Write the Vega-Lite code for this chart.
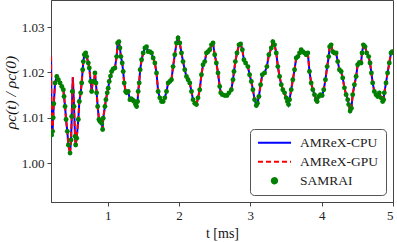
{
  "$schema": "https://vega.github.io/schema/vega-lite/v6.json",
  "width": 342,
  "height": 202,
  "autosize": {"type": "none"},
  "padding": {"left": 51, "top": 0, "right": 4, "bottom": 40},
  "background": "white",
  "config": {
    "view": {"stroke": "#444", "strokeWidth": 1},
    "font": "Liberation Serif",
    "axis": {
      "grid": false,
      "domainColor": "#444",
      "tickColor": "#444",
      "tickSize": 4,
      "labelFont": "Liberation Serif",
      "labelFontSize": 13,
      "labelColor": "#222",
      "titleFont": "Liberation Serif",
      "titleFontSize": 14,
      "titleFontWeight": "normal",
      "titleColor": "#111"
    }
  },
  "data": {"values": [
    {"t":0.207,"amrex":1.0235,"samrai":null},
    {"t":0.215,"amrex":1.0062,"samrai":1.0062},
    {"t":0.228,"amrex":1.0070,"samrai":1.0070},
    {"t":0.237,"amrex":1.0100,"samrai":1.0100},
    {"t":0.245,"amrex":1.0131,"samrai":1.0131},
    {"t":0.263,"amrex":1.0177,"samrai":1.0177},
    {"t":0.287,"amrex":1.0191,"samrai":1.0191},
    {"t":0.309,"amrex":1.0184,"samrai":1.0184},
    {"t":0.333,"amrex":1.0177,"samrai":1.0177},
    {"t":0.357,"amrex":1.0169,"samrai":1.0169},
    {"t":0.379,"amrex":1.0162,"samrai":1.0162},
    {"t":0.389,"amrex":1.0147,"samrai":1.0147},
    {"t":0.403,"amrex":1.0125,"samrai":1.0125},
    {"t":0.417,"amrex":1.0096,"samrai":1.0096},
    {"t":0.435,"amrex":1.0070,"samrai":1.0070},
    {"t":0.449,"amrex":1.0040,"samrai":1.0040},
    {"t":0.473,"amrex":1.0022,"samrai":1.0022},
    {"t":0.487,"amrex":1.0051,"samrai":1.0051},
    {"t":0.497,"amrex":1.0103,"samrai":1.0103},
    {"t":0.505,"amrex":1.0158,"samrai":1.0158},
    {"t":0.512,"amrex":1.0190,"samrai":null},
    {"t":0.529,"amrex":1.0125,"samrai":1.0125},
    {"t":0.543,"amrex":1.0059,"samrai":1.0059},
    {"t":0.552,"amrex":1.0040,"samrai":1.0040},
    {"t":0.566,"amrex":1.0055,"samrai":1.0055},
    {"t":0.589,"amrex":1.0096,"samrai":1.0096},
    {"t":0.603,"amrex":1.0136,"samrai":1.0136},
    {"t":0.622,"amrex":1.0155,"samrai":1.0155},
    {"t":0.636,"amrex":1.0177,"samrai":1.0177},
    {"t":0.650,"amrex":1.0206,"samrai":1.0206},
    {"t":0.659,"amrex":1.0224,"samrai":1.0224},
    {"t":0.673,"amrex":1.0239,"samrai":1.0239},
    {"t":0.692,"amrex":1.0243,"samrai":1.0243},
    {"t":0.706,"amrex":1.0235,"samrai":1.0235},
    {"t":0.729,"amrex":1.0221,"samrai":1.0221},
    {"t":0.743,"amrex":1.0210,"samrai":1.0210},
    {"t":0.762,"amrex":1.0180,"samrai":1.0180},
    {"t":0.776,"amrex":1.0158,"samrai":1.0158},
    {"t":0.790,"amrex":1.0180,"samrai":1.0180},
    {"t":0.808,"amrex":1.0180,"samrai":1.0180},
    {"t":0.822,"amrex":1.0199,"samrai":1.0199},
    {"t":0.836,"amrex":1.0177,"samrai":1.0177},
    {"t":0.846,"amrex":1.0155,"samrai":1.0155},
    {"t":0.860,"amrex":1.0125,"samrai":1.0125},
    {"t":0.878,"amrex":1.0096,"samrai":1.0096},
    {"t":0.892,"amrex":1.0092,"samrai":1.0092},
    {"t":0.916,"amrex":1.0088,"samrai":1.0088},
    {"t":0.930,"amrex":1.0074,"samrai":1.0074},
    {"t":0.938,"amrex":1.0099,"samrai":1.0099},
    {"t":0.962,"amrex":1.0125,"samrai":1.0125},
    {"t":0.976,"amrex":1.0140,"samrai":1.0140},
    {"t":0.994,"amrex":1.0155,"samrai":1.0155},
    {"t":1.008,"amrex":1.0165,"samrai":1.0165},
    {"t":1.022,"amrex":1.0180,"samrai":1.0180},
    {"t":1.040,"amrex":1.0192,"samrai":1.0192},
    {"t":1.056,"amrex":1.0202,"samrai":1.0202},
    {"t":1.078,"amrex":1.0208,"samrai":1.0208},
    {"t":1.102,"amrex":1.0210,"samrai":1.0210},
    {"t":1.126,"amrex":1.0235,"samrai":1.0235},
    {"t":1.140,"amrex":1.0265,"samrai":1.0265},
    {"t":1.158,"amrex":1.0268,"samrai":1.0268},
    {"t":1.172,"amrex":1.0254,"samrai":1.0254},
    {"t":1.186,"amrex":1.0235,"samrai":1.0235},
    {"t":1.204,"amrex":1.0221,"samrai":1.0221},
    {"t":1.218,"amrex":1.0202,"samrai":1.0202},
    {"t":1.232,"amrex":1.0177,"samrai":1.0177},
    {"t":1.252,"amrex":1.0158,"samrai":1.0158},
    {"t":1.266,"amrex":1.0155,"samrai":1.0155},
    {"t":1.288,"amrex":1.0158,"samrai":1.0158},
    {"t":1.312,"amrex":1.0140,"samrai":1.0140},
    {"t":1.328,"amrex":1.0142,"samrai":1.0142},
    {"t":1.344,"amrex":1.0140,"samrai":1.0140},
    {"t":1.358,"amrex":1.0138,"samrai":1.0138},
    {"t":1.372,"amrex":1.0136,"samrai":1.0136},
    {"t":1.392,"amrex":1.0129,"samrai":1.0129},
    {"t":1.406,"amrex":1.0125,"samrai":1.0125},
    {"t":1.420,"amrex":1.0136,"samrai":1.0136},
    {"t":1.428,"amrex":1.0158,"samrai":1.0158},
    {"t":1.442,"amrex":1.0177,"samrai":1.0177},
    {"t":1.456,"amrex":1.0206,"samrai":1.0206},
    {"t":1.476,"amrex":1.0228,"samrai":1.0228},
    {"t":1.498,"amrex":1.0243,"samrai":1.0243},
    {"t":1.522,"amrex":1.0254,"samrai":1.0254},
    {"t":1.545,"amrex":1.0257,"samrai":1.0257},
    {"t":1.568,"amrex":1.0246,"samrai":1.0246},
    {"t":1.592,"amrex":1.0246,"samrai":1.0246},
    {"t":1.615,"amrex":1.0243,"samrai":1.0243},
    {"t":1.638,"amrex":1.0232,"samrai":1.0232},
    {"t":1.662,"amrex":1.0221,"samrai":1.0221},
    {"t":1.685,"amrex":1.0199,"samrai":1.0199},
    {"t":1.708,"amrex":1.0158,"samrai":1.0158},
    {"t":1.731,"amrex":1.0144,"samrai":1.0144},
    {"t":1.755,"amrex":1.0136,"samrai":1.0136},
    {"t":1.778,"amrex":1.0136,"samrai":1.0136},
    {"t":1.801,"amrex":1.0144,"samrai":1.0144},
    {"t":1.825,"amrex":1.0158,"samrai":1.0158},
    {"t":1.848,"amrex":1.0177,"samrai":1.0177},
    {"t":1.871,"amrex":1.0180,"samrai":1.0180},
    {"t":1.895,"amrex":1.0184,"samrai":1.0184},
    {"t":1.917,"amrex":1.0213,"samrai":1.0213},
    {"t":1.941,"amrex":1.0239,"samrai":1.0239},
    {"t":1.965,"amrex":1.0265,"samrai":1.0265},
    {"t":1.987,"amrex":1.0276,"samrai":1.0276},
    {"t":2.011,"amrex":1.0265,"samrai":1.0265},
    {"t":2.035,"amrex":1.0243,"samrai":1.0243},
    {"t":2.057,"amrex":1.0224,"samrai":1.0224},
    {"t":2.081,"amrex":1.0206,"samrai":1.0206},
    {"t":2.105,"amrex":1.0191,"samrai":1.0191},
    {"t":2.128,"amrex":1.0184,"samrai":1.0184},
    {"t":2.151,"amrex":1.0177,"samrai":1.0177},
    {"t":2.175,"amrex":1.0158,"samrai":1.0158},
    {"t":2.197,"amrex":1.0140,"samrai":1.0140},
    {"t":2.221,"amrex":1.0132,"samrai":1.0132},
    {"t":2.245,"amrex":1.0129,"samrai":1.0129},
    {"t":2.267,"amrex":1.0144,"samrai":1.0144},
    {"t":2.291,"amrex":1.0162,"samrai":1.0162},
    {"t":2.315,"amrex":1.0195,"samrai":1.0195},
    {"t":2.337,"amrex":1.0217,"samrai":1.0217},
    {"t":2.361,"amrex":1.0224,"samrai":1.0224},
    {"t":2.385,"amrex":1.0243,"samrai":1.0243},
    {"t":2.407,"amrex":1.0246,"samrai":1.0246},
    {"t":2.431,"amrex":1.0250,"samrai":1.0250},
    {"t":2.455,"amrex":1.0261,"samrai":1.0261},
    {"t":2.477,"amrex":1.0265,"samrai":1.0265},
    {"t":2.501,"amrex":1.0239,"samrai":1.0239},
    {"t":2.524,"amrex":1.0221,"samrai":1.0221},
    {"t":2.547,"amrex":1.0199,"samrai":1.0199},
    {"t":2.571,"amrex":1.0169,"samrai":1.0169},
    {"t":2.585,"amrex":1.0155,"samrai":1.0155},
    {"t":2.608,"amrex":1.0151,"samrai":1.0151},
    {"t":2.641,"amrex":1.0149,"samrai":1.0149},
    {"t":2.673,"amrex":1.0149,"samrai":1.0149},
    {"t":2.701,"amrex":1.0155,"samrai":1.0155},
    {"t":2.734,"amrex":1.0162,"samrai":1.0162},
    {"t":2.757,"amrex":1.0184,"samrai":1.0184},
    {"t":2.771,"amrex":1.0202,"samrai":1.0202},
    {"t":2.790,"amrex":1.0224,"samrai":1.0224},
    {"t":2.813,"amrex":1.0243,"samrai":1.0243},
    {"t":2.841,"amrex":1.0261,"samrai":1.0261},
    {"t":2.864,"amrex":1.0263,"samrai":1.0263},
    {"t":2.888,"amrex":1.0250,"samrai":1.0250},
    {"t":2.910,"amrex":1.0228,"samrai":1.0228},
    {"t":2.934,"amrex":1.0221,"samrai":1.0221},
    {"t":2.966,"amrex":1.0213,"samrai":1.0213},
    {"t":2.990,"amrex":1.0195,"samrai":1.0195},
    {"t":3.014,"amrex":1.0180,"samrai":1.0180},
    {"t":3.036,"amrex":1.0162,"samrai":1.0162},
    {"t":3.060,"amrex":1.0140,"samrai":1.0140},
    {"t":3.084,"amrex":1.0127,"samrai":1.0127},
    {"t":3.100,"amrex":1.0132,"samrai":1.0132},
    {"t":3.120,"amrex":1.0147,"samrai":1.0147},
    {"t":3.144,"amrex":1.0173,"samrai":1.0173},
    {"t":3.168,"amrex":1.0195,"samrai":1.0195},
    {"t":3.200,"amrex":1.0199,"samrai":1.0199},
    {"t":3.232,"amrex":1.0213,"samrai":1.0213},
    {"t":3.260,"amrex":1.0239,"samrai":1.0239},
    {"t":3.294,"amrex":1.0254,"samrai":1.0254},
    {"t":3.316,"amrex":1.0268,"samrai":1.0268},
    {"t":3.340,"amrex":1.0261,"samrai":1.0261},
    {"t":3.364,"amrex":1.0243,"samrai":1.0243},
    {"t":3.386,"amrex":1.0213,"samrai":1.0213},
    {"t":3.410,"amrex":1.0191,"samrai":1.0191},
    {"t":3.434,"amrex":1.0173,"samrai":1.0173},
    {"t":3.456,"amrex":1.0162,"samrai":1.0162},
    {"t":3.480,"amrex":1.0155,"samrai":1.0155},
    {"t":3.503,"amrex":1.0144,"samrai":1.0144},
    {"t":3.520,"amrex":1.0136,"samrai":1.0136},
    {"t":3.536,"amrex":1.0129,"samrai":1.0129},
    {"t":3.550,"amrex":1.0140,"samrai":1.0140},
    {"t":3.573,"amrex":1.0162,"samrai":1.0162},
    {"t":3.596,"amrex":1.0184,"samrai":1.0184},
    {"t":3.620,"amrex":1.0206,"samrai":1.0206},
    {"t":3.643,"amrex":1.0232,"samrai":1.0232},
    {"t":3.666,"amrex":1.0235,"samrai":1.0235},
    {"t":3.690,"amrex":1.0243,"samrai":1.0243},
    {"t":3.713,"amrex":1.0250,"samrai":1.0250},
    {"t":3.736,"amrex":1.0246,"samrai":1.0246},
    {"t":3.759,"amrex":1.0243,"samrai":1.0243},
    {"t":3.783,"amrex":1.0239,"samrai":1.0239},
    {"t":3.806,"amrex":1.0243,"samrai":1.0243},
    {"t":3.829,"amrex":1.0202,"samrai":1.0202},
    {"t":3.853,"amrex":1.0177,"samrai":1.0177},
    {"t":3.876,"amrex":1.0162,"samrai":1.0162},
    {"t":3.899,"amrex":1.0151,"samrai":1.0151},
    {"t":3.923,"amrex":1.0140,"samrai":1.0140},
    {"t":3.937,"amrex":1.0136,"samrai":1.0136},
    {"t":3.959,"amrex":1.0147,"samrai":1.0147},
    {"t":3.983,"amrex":1.0151,"samrai":1.0151},
    {"t":4.007,"amrex":1.0149,"samrai":1.0149},
    {"t":4.029,"amrex":1.0162,"samrai":1.0162},
    {"t":4.053,"amrex":1.0184,"samrai":1.0184},
    {"t":4.077,"amrex":1.0213,"samrai":1.0213},
    {"t":4.099,"amrex":1.0235,"samrai":1.0235},
    {"t":4.112,"amrex":1.0257,"samrai":1.0257},
    {"t":4.133,"amrex":1.0261,"samrai":1.0261},
    {"t":4.155,"amrex":1.0246,"samrai":1.0246},
    {"t":4.179,"amrex":1.0243,"samrai":1.0243},
    {"t":4.203,"amrex":1.0243,"samrai":1.0243},
    {"t":4.225,"amrex":1.0224,"samrai":1.0224},
    {"t":4.249,"amrex":1.0206,"samrai":1.0206},
    {"t":4.273,"amrex":1.0202,"samrai":1.0202},
    {"t":4.295,"amrex":1.0188,"samrai":1.0188},
    {"t":4.319,"amrex":1.0166,"samrai":1.0166},
    {"t":4.343,"amrex":1.0151,"samrai":1.0151},
    {"t":4.365,"amrex":1.0140,"samrai":1.0140},
    {"t":4.379,"amrex":1.0129,"samrai":1.0129},
    {"t":4.399,"amrex":1.0115,"samrai":1.0115},
    {"t":4.417,"amrex":1.0121,"samrai":1.0121},
    {"t":4.435,"amrex":1.0151,"samrai":1.0151},
    {"t":4.459,"amrex":1.0173,"samrai":1.0173},
    {"t":4.483,"amrex":1.0191,"samrai":1.0191},
    {"t":4.505,"amrex":1.0217,"samrai":1.0217},
    {"t":4.529,"amrex":1.0222,"samrai":1.0222},
    {"t":4.552,"amrex":1.0221,"samrai":1.0221},
    {"t":4.566,"amrex":1.0243,"samrai":1.0243},
    {"t":4.585,"amrex":1.0261,"samrai":1.0261},
    {"t":4.608,"amrex":1.0257,"samrai":1.0257},
    {"t":4.631,"amrex":1.0243,"samrai":1.0243},
    {"t":4.659,"amrex":1.0235,"samrai":1.0235},
    {"t":4.678,"amrex":1.0221,"samrai":1.0221},
    {"t":4.697,"amrex":1.0199,"samrai":1.0199},
    {"t":4.715,"amrex":1.0177,"samrai":1.0177},
    {"t":4.738,"amrex":1.0158,"samrai":1.0158},
    {"t":4.762,"amrex":1.0151,"samrai":1.0151},
    {"t":4.785,"amrex":1.0147,"samrai":1.0147},
    {"t":4.808,"amrex":1.0155,"samrai":1.0155},
    {"t":4.832,"amrex":1.0144,"samrai":1.0144},
    {"t":4.855,"amrex":1.0136,"samrai":1.0136},
    {"t":4.869,"amrex":1.0140,"samrai":1.0140},
    {"t":4.878,"amrex":1.0155,"samrai":1.0155},
    {"t":4.902,"amrex":1.0177,"samrai":1.0177},
    {"t":4.924,"amrex":1.0199,"samrai":1.0199},
    {"t":4.948,"amrex":1.0221,"samrai":1.0221},
    {"t":4.972,"amrex":1.0243,"samrai":1.0243},
    {"t":4.990,"amrex":1.0246,"samrai":1.0246}
  ]},
  "encoding": {
    "x": {
      "field": "t", "type": "quantitative",
      "scale": {"domain": [0.206, 5.0], "nice": false, "zero": false},
      "axis": {"title": "t [ms]", "values": [1, 2, 3, 4, 5], "format": "d", "labelPadding": 3, "titlePadding": 4}
    }
  },
  "layer": [
    {
      "mark": {"type": "line", "strokeWidth": 2, "clip": true},
      "encoding": {
        "y": {
          "field": "amrex", "type": "quantitative",
          "scale": {"domain": [0.9914, 1.036], "nice": false, "zero": false},
          "axis": {"title": "ρc(t) / ρc(0)", "titleFontStyle": "italic", "titleFontSize": 15.5, "titleY": 92, "values": [1.0, 1.01, 1.02, 1.03], "format": ".2f", "labelPadding": 3, "titlePadding": 3}
        },
        "color": {
          "datum": "AMReX-CPU",
          "scale": {"domain": ["AMReX-CPU", "AMReX-GPU", "SAMRAI"], "range": ["#0000ff", "#ff0000", "#008000"]},
          "legend": {
            "title": null,
            "orient": "bottom-right",
            "offset": 7,
            "padding": 7,
            "fillColor": "white",
            "strokeColor": "#555",
            "cornerRadius": 4,
            "symbolType": "stroke",
            "symbolSize": 1089,
            "symbolStrokeWidth": 2,
            "clipHeight": 13.5,
            "labelFont": "Liberation Serif",
            "labelFontSize": 13.5,
            "labelColor": "#222",
            "labelOffset": 8,
            "rowPadding": 4,
            "encode": {
              "symbols": {
                "update": {
                  "shape": {"signal": "datum.value === 'SAMRAI' ? 'circle' : 'stroke'"},
                  "size": {"signal": "datum.value === 'SAMRAI' ? 28 : 1089"},
                  "strokeDash": {"signal": "datum.value === 'AMReX-GPU' ? [5, 3] : [1, 0]"},
                  "fill": {"signal": "datum.value === 'SAMRAI' ? '#008000' : 'transparent'"},
                  "stroke": {"signal": "datum.value === 'SAMRAI' ? 'transparent' : (datum.value === 'AMReX-GPU' ? '#ff0000' : '#0000ff')"},
                  "strokeWidth": {"value": 2},
                  "opacity": {"value": 1}
                }
              }
            }
          }
        }
      }
    },
    {
      "mark": {"type": "line", "strokeWidth": 2, "strokeDash": [5, 3], "clip": true},
      "encoding": {
        "y": {"field": "amrex", "type": "quantitative"},
        "color": {"datum": "AMReX-GPU"}
      }
    },
    {
      "mark": {"type": "point", "filled": true, "size": 24, "opacity": 1, "clip": true},
      "encoding": {
        "y": {"field": "samrai", "type": "quantitative"},
        "color": {"datum": "SAMRAI"}
      }
    }
  ]
}
